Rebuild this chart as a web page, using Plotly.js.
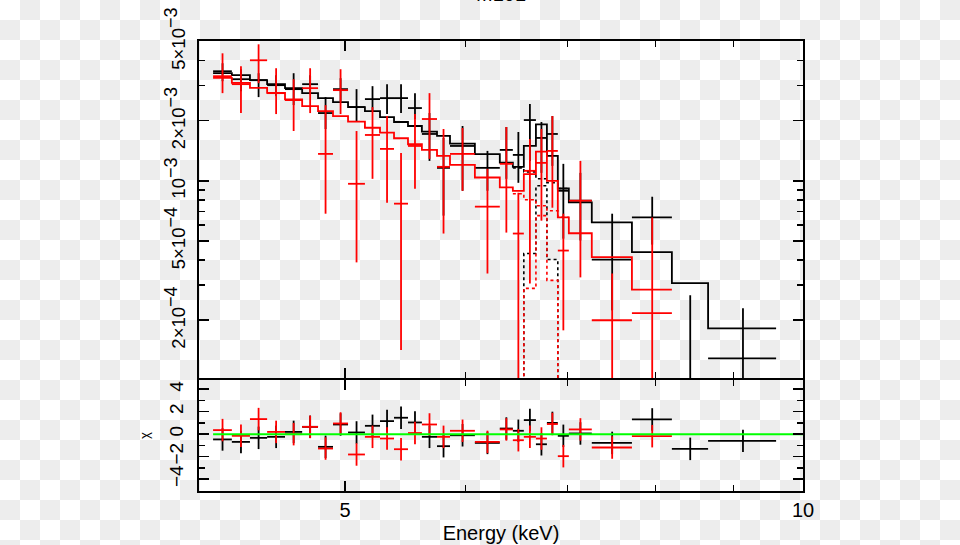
<!DOCTYPE html>
<html>
<head>
<meta charset="utf-8">
<script src="https://cdn.plot.ly/plotly-3.0.1.min.js"></script>
<style>
html,body{margin:0;padding:0;}
body{width:960px;height:545px;overflow:hidden;
background:repeating-conic-gradient(#ededed 0% 25%, #ffffff 0% 50%) 0 0 / 40px 40px;}
#chart{width:960px;height:545px;}
</style>
</head>
<body>
<div id="chart"></div>
<script>
// ---- data (energies in keV, fluxes in counts s^-1 keV^-1) ----
const binEdges = [4.095, 4.213, 4.330, 4.444, 4.566, 4.686, 4.800, 4.910, 5.023, 5.153,
  5.272, 5.385, 5.500, 5.617, 5.747, 5.861, 6.086, 6.320, 6.446, 6.554, 6.675,
  6.787, 6.900, 7.016, 7.264, 7.719, 8.200, 8.662, 9.601];

const blackData = [0.003541, 0.003230, 0.003193, 0.003015, 0.002880, 0.003050, 0.002185,
  0.002880, 0.002341, 0.002567, 0.002597, 0.002597, 0.002315, 0.001717, 0.001161,
  0.001495, 0.001161, 0.001428, 0.001348, 0.002016, 0.001640, 0.001717, 0.000891,
  0.000795, 0.000403, 0.000656, 0.000090, 0.0001288];
const blackHigh = [0.003883, 0.003624, 0.003461, 0.003382, 0.003461, 0.003382, 0.002627,
  0.003268, 0.002880, 0.002981, 0.003050, 0.003050, 0.002750, 0.002185, 0.001640,
  0.001882, 0.001412, 0.001860, 0.001756, 0.002423, 0.001971, 0.002111, 0.001216,
  0.001096, 0.000684, 0.000832, 0.000267, 0.000230];
const blackLow = [0.003157, 0.002814, 0.002627, 0.002657, 0.002395, 0.002719, 0.001818,
  0.002508, 0.001994, 0.002236, 0.002160, 0.002185, 0.002040, 0.001258, 0.000669,
  0.000891, 0.000891, 0.001023, 0.000977, 0.001258, 0.001096, 0.001188, 0.000513,
  0.000502, 0.000224, 0.000479, 0.00001, 0.00001];
const blackModel = [0.003461, 0.003382, 0.003193, 0.003050, 0.002913, 0.002750, 0.002597,
  0.002480, 0.002341, 0.002236, 0.002086, 0.001971, 0.001882, 0.001762, 0.001678,
  0.001535, 0.001359, 0.001234, 0.001175, 0.001495, 0.001919, 0.001333, 0.000915,
  0.000779, 0.000619, 0.000439, 0.000307, 0.000182];
const blackResid = [-0.47, -0.69, -0.33, -0.24, 0.20, 0.65, -1.13, 0.86, 0.15, 0.74, 1.16,
  1.46, 1.04, -0.24, -1.07, -0.10, -0.78, 0.50, 0.30, 1.25, -0.90, 1.00, -0.15, 0.06,
  -0.78, 1.31, -1.31, -0.60];

const redData = [0.003344, 0.003050, 0.004019, 0.002750, 0.002538, 0.002913, 0.001364,
  0.002847, 0.000966, 0.001697, 0.001445, 0.000768, 0.001495, 0.002040, 0.001175,
  0.001364, 0.000742, 0.001216, 0.000544, 0.001122, 0.001230, 0.001412, 0.000447,
  0.000795, 0.000200, 0.000217];
const redHigh = [0.004355, 0.003751, 0.004831, 0.003666, 0.003230, 0.003666, 0.002395,
  0.003624, 0.001776, 0.002341, 0.002111, 0.001380, 0.002160, 0.002750, 0.001818,
  0.001839, 0.001148, 0.001860, 0.000871, 0.001621, 0.001818, 0.002111, 0.000684,
  0.001258, 0.000343, 0.000654];
const redLow = [0.002750, 0.002185, 0.003086, 0.002160, 0.001776, 0.002185, 0.000684,
  0.002160, 0.000390, 0.001023, 0.000777, 0.000142, 0.000912, 0.001288, 0.000544,
  0.000891, 0.000343, 0.000550, 0.00001, 0.000306, 0.000631, 0.000733, 0.000178,
  0.000328, 0.00001, 0.00001];
const redModel = [0.003279, 0.003096, 0.002923, 0.002760, 0.002558, 0.002368, 0.002236,
  0.002111, 0.001978, 0.001845, 0.001743, 0.001634, 0.001525, 0.001428, 0.001333,
  0.001202, 0.001039, 0.000926, 0.000891, 0.001080, 0.001401, 0.001000, 0.000656,
  0.000546, 0.000414, 0.000285];
const redResid = [0.36, -0.15, 1.34, 0.20, 0.00, 0.65, -1.28, 0.95, -1.81, -0.24, -0.39,
  -1.34, 0.10, 0.86, -0.24, 0.30, -0.69, 0.42, -0.54, -0.24, -0.39, 0.90, -1.96, 0.42,
  -1.19, -0.18];

// model components (Fe line region)
const compEdges = [6.446, 6.554, 6.675, 6.787, 6.900, 7.016];
const blackLineComp = [1e-6, 0.000432, 0.000944, 0.000403, 1e-6];
const redLineComp = [1e-6, 0.000289, 0.000669, 0.000317, 1e-6];
const blackContComp = [0.001161, 0.001109, 0.001023, 0.000977, 0.000915];
const redContComp = [0.000861, 0.000804, 0.000750, 0.000708, 0.000656];

const zeroLineX = [4.095, 10];
const zeroLineY = [0, 0];

const SUP = (s) => '<sup><span style="font-size:140%">' + s + '</span></sup>';
const fluxTickVals = [2e-4, 5e-4, 1e-3, 2e-3, 5e-3];
const fluxTickText = ['2×10' + SUP('−4'), '5×10' + SUP('−4'), '10' + SUP('−3'), '2×10' + SUP('−3'), '5×10' + SUP('−3')];
const fluxMinorVals = [3e-4, 4e-4, 6e-4, 7e-4, 8e-4, 9e-4, 3e-3, 4e-3];
const resTickVals = [-4, -2, 0, 2, 4];
const resTickText = ['−4', '−2', '0', '2', '4'];
const resMinorVals = [-5, -3, -1, 1, 3, 5];
const energyTickVals = [5, 10];
const energyTickText = ['5', '10'];
const energyMinorVals = [4, 6, 7, 8, 9];

// ---- helpers built from the arrays ----
function centers(n){ const c=[]; for(let i=0;i<n;i++) c.push((binEdges[i]+binEdges[i+1])/2); return c; }
function xerrPlus(n){ const e=[]; for(let i=0;i<n;i++) e.push(binEdges[i+1]-(binEdges[i]+binEdges[i+1])/2); return e; }
function xerrMinus(n){ const e=[]; for(let i=0;i<n;i++) e.push((binEdges[i]+binEdges[i+1])/2-binEdges[i]); return e; }
function stepX(edges, n){ return edges.slice(0, n+1); }
function stepY(vals){ return vals.concat([vals[vals.length-1]]); }

const LW = 1.8;
function dataTrace(vals, hi, lo, color, xa, ya){
  const n = vals.length;
  return {
    type:'scatter', mode:'markers', xaxis:xa, yaxis:ya,
    x:centers(n), y:vals,
    marker:{size:1, color:'rgba(0,0,0,0)'},
    error_x:{type:'data', symmetric:false, array:xerrPlus(n), arrayminus:xerrMinus(n), color:color, thickness:LW, width:0},
    error_y:{type:'data', symmetric:false, array:hi.map((h,i)=>h-vals[i]), arrayminus:lo.map((l,i)=>vals[i]-l), color:color, thickness:LW, width:0},
    hoverinfo:'skip'
  };
}
function resTrace(vals, color){
  const n = vals.length;
  return {
    type:'scatter', mode:'markers', xaxis:'x', yaxis:'y',
    x:centers(n), y:vals,
    marker:{size:1, color:'rgba(0,0,0,0)'},
    error_x:{type:'data', symmetric:false, array:xerrPlus(n), arrayminus:xerrMinus(n), color:color, thickness:LW, width:0},
    error_y:{type:'data', symmetric:true, array:vals.map(()=>1), color:color, thickness:LW, width:0},
    hoverinfo:'skip'
  };
}
function stepTrace(edges, vals, color, dash, width){
  return {
    type:'scatter', mode:'lines', xaxis:'x2', yaxis:'y2',
    x:stepX(edges, vals.length), y:stepY(vals),
    line:{shape:'hv', color:color, width:width, dash:dash},
    hoverinfo:'skip'
  };
}

const traces = [
  stepTrace(compEdges, blackLineComp, '#000', 'dot', 1.6),
  stepTrace(compEdges, blackContComp, '#000', 'dot', 1.6),
  stepTrace(compEdges, redLineComp, '#ff0000', 'dot', 1.6),
  stepTrace(compEdges, redContComp, '#ff0000', 'dot', 1.6),
  dataTrace(blackData, blackHigh, blackLow, '#000', 'x2', 'y2'),
  stepTrace(binEdges, blackModel, '#000', 'solid', LW),
  dataTrace(redData, redHigh, redLow, '#ff0000', 'x2', 'y2'),
  stepTrace(binEdges, redModel, '#ff0000', 'solid', LW),
  resTrace(blackResid, '#000'),
  resTrace(redResid, '#ff0000'),
  {type:'scatter', mode:'lines', xaxis:'x', yaxis:'y', x:zeroLineX, y:zeroLineY,
   line:{color:'#00ff00', width:2}, hoverinfo:'skip'}
];

const FONT = 'Liberation Sans, Arial, Helvetica, sans-serif';
const xRange = [0.603, 1.0];
const topDomBottom = 0.2511;
const botDomTop = 0.2467;

const commonAxis = {
  showline:true, linecolor:'#000', linewidth:2, mirror:'ticks',
  ticks:'inside', ticklen:10, tickwidth:1.5, tickcolor:'#000',
  showgrid:false, zeroline:false, fixedrange:true
};

const layout = {
  width:960, height:545,
  margin:{l:199, r:157, t:41, b:54, pad:0},
  paper_bgcolor:'rgba(0,0,0,0)', plot_bgcolor:'rgba(0,0,0,0)',
  showlegend:false,
  font:{family:FONT, color:'#000', size:18},
  xaxis:Object.assign({}, commonAxis, {
    type:'log', range:xRange, domain:[0,1], anchor:'y',
    tickmode:'array', tickvals:energyTickVals, ticktext:energyTickText,
    tickfont:{size:20, family:FONT},
    minor:{tickmode:'array', tickvals:energyMinorVals, ticks:'inside', ticklen:6, tickwidth:1.5, tickcolor:'#000'},
    title:{text:'Energy (keV)', font:{size:20, family:FONT}, standoff:6}
  }),
  yaxis:Object.assign({}, commonAxis, {
    domain:[0, botDomTop], range:[-5.06, 4.82], anchor:'x',
    tickmode:'array', tickvals:resTickVals, ticktext:resTickText, tickangle:-90,
    tickfont:{size:19, family:FONT}, ticklabelstandoff:6,
    minor:{tickmode:'array', tickvals:resMinorVals, ticks:'inside', ticklen:6, tickwidth:1.5, tickcolor:'#000'},
    title:{text:'χ', font:{size:13, family:FONT}, standoff:14}
  }),
  xaxis2:Object.assign({}, commonAxis, {
    type:'log', range:xRange, domain:[0,1], anchor:'y2', matches:'x',
    tickmode:'array', tickvals:energyTickVals, showticklabels:false,
    minor:{tickmode:'array', tickvals:energyMinorVals, ticks:'inside', ticklen:6, tickwidth:1.5, tickcolor:'#000'}
  }),
  yaxis2:Object.assign({}, commonAxis, {
    type:'log', domain:[topDomBottom, 1], range:[-3.9885, -2.2993], anchor:'x2',
    tickmode:'array', tickvals:fluxTickVals, ticktext:fluxTickText, tickangle:-90,
    tickfont:{size:18.5, family:FONT}, ticklabelstandoff:5,
    minor:{tickmode:'array', tickvals:fluxMinorVals, ticks:'inside', ticklen:6, tickwidth:1.5, tickcolor:'#000'}
  }),
  annotations:[{
    text:'M101', xref:'paper', yref:'paper', x:0.5, y:1.076, xanchor:'center', yanchor:'bottom',
    showarrow:false, font:{size:20, family:FONT, color:'#000'}
  }]
};

Plotly.newPlot('chart', traces, layout, {staticPlot:true, displayModeBar:false});
</script>
</body>
</html>
